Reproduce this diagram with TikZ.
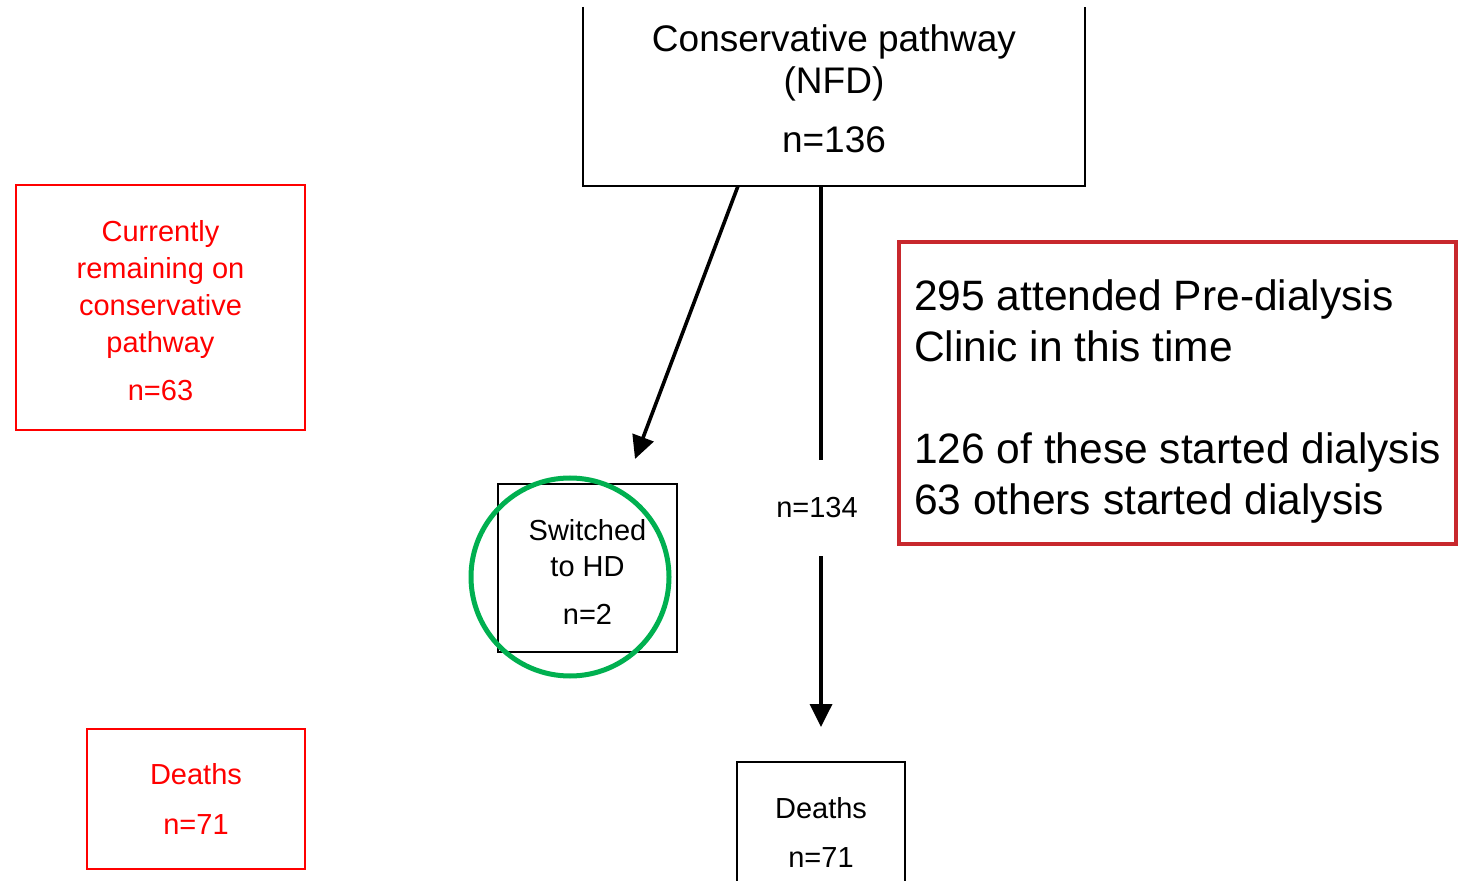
\documentclass[tikz,border=0pt]{standalone}
\usepackage{fontspec}
\setmainfont{Liberation Sans}
\usepackage{tikz}
\usetikzlibrary{shapes,arrows.meta}
\definecolor{clinicRed}{RGB}{200,40,45}
\definecolor{ringGreen}{RGB}{0,176,80}
\tikzstyle{pathwayStage} = [rectangle, draw, line width=1pt, align=center,
    font=\fontsize{14.5}{18}\selectfont]
\tikzstyle{outcomeNote} = [rectangle, draw=red, line width=1pt, text=red,
    align=center, font=\fontsize{14.5}{18.5}\selectfont]
\tikzstyle{clinicNote} = [rectangle, draw=clinicRed, line width=2.2pt, align=left,
    inner xsep=7.5pt, minimum height=151pt, font=\fontsize{21.25}{25.5}\selectfont]
\tikzstyle{transfer} = [draw, line width=1.8pt, -{Triangle[length=11.5pt,width=11pt]}]

\begin{document}
\begin{tikzpicture}[x=0.5pt, y=-0.5pt]
    \useasboundingbox (0,0) rectangle (1461,881);
    \clip (0,0) rectangle (1461,881);
    % Place nodes
    \node[pathwayStage, draw=none, minimum width=250pt, minimum height=96.5pt,
        font=\fontsize{18.5}{21}\selectfont] (pathway) at (834,88.5)
        {Conservative pathway\\(NFD)\\[8.5pt]n=136};
    \node[outcomeNote, minimum width=144.5pt, minimum height=122.5pt] (remaining) at (160.5,307.5)
        {\rule{0pt}{13.5pt}Currently\\remaining on\\conservative\\pathway\\[5.5pt]n=63};
    \node[outcomeNote, minimum width=109pt, minimum height=70pt] (redDeaths) at (196,799)
        {Deaths\\[6.5pt]n=71};
    \node[pathwayStage, minimum width=89.5pt, minimum height=84pt] (switched) at (587.5,568)
        {\rule{0pt}{14.5pt}Switched\\to HD\\[6pt]n=2};
    \node[circle, draw=ringGreen, line width=2.5pt, minimum size=99pt] (ring) at (570,577) {};
    \node[font=\fontsize{14.5}{18}\selectfont, minimum height=48pt] (n134) at (817,508) {n=134};
    \node[pathwayStage, minimum width=84pt, minimum height=70pt] (deaths) at (821,832)
        {Deaths\\[6.5pt]n=71};
    \node[clinicNote] (clinic) at (1177.5,393)
        {\rule{0pt}{23.5pt}295 attended Pre-dialysis\\Clinic in this time\\[25.5pt]126 of these started dialysis\\63 others started dialysis};
    \coordinate (hdTip) at (635,459);

    % Draw edges
    \draw[line width=1pt] ([yshift=-8pt]pathway.north west) -- (pathway.south west)
        -- (pathway.south east) -- ([yshift=-8pt]pathway.north east);
    \path[transfer] ([xshift=-48pt]pathway.south) -- (hdTip);
    \draw[line width=1.8pt] (pathway.south -| deaths.north) -- (n134.north -| deaths.north);
    \path[transfer, shorten >=17pt] (n134.south -| deaths.north) -- (deaths.north);
\end{tikzpicture}
\end{document}
